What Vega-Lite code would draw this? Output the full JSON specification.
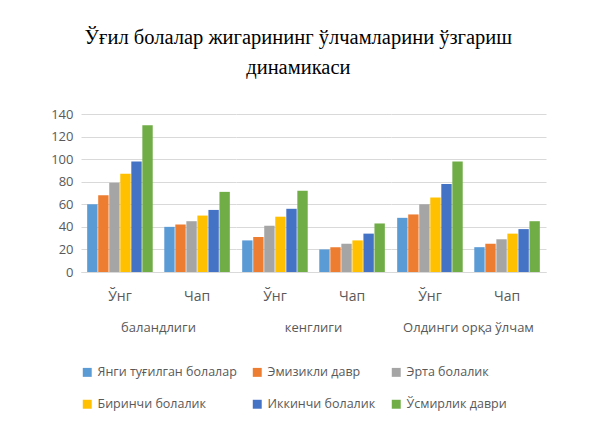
{
  "$schema": "https://vega.github.io/schema/vega-lite/v6.json",
  "background": "white",
  "padding": {"left": 50, "top": 27, "right": 20, "bottom": 10},
  "title": {
    "text": ["Ўғил болалар жигарининг  ўлчамларини ўзгариш", "динамикаси"],
    "font": "Liberation Serif",
    "fontSize": 20.5,
    "fontWeight": "normal",
    "color": "#000000",
    "anchor": "middle",
    "lineHeight": 30,
    "offset": 30
  },
  "data": {
    "values": [
      {"group": "баландлиги", "side": "Ўнг", "series": "Янги туғилган болалар", "value": 60},
      {"group": "баландлиги", "side": "Ўнг", "series": "Эмизикли давр", "value": 68},
      {"group": "баландлиги", "side": "Ўнг", "series": "Эрта болалик", "value": 79},
      {"group": "баландлиги", "side": "Ўнг", "series": "Биринчи болалик", "value": 87},
      {"group": "баландлиги", "side": "Ўнг", "series": "Иккинчи болалик", "value": 98},
      {"group": "баландлиги", "side": "Ўнг", "series": "Ўсмирлик даври", "value": 130},
      {"group": "баландлиги", "side": "Чап", "series": "Янги туғилган болалар", "value": 40},
      {"group": "баландлиги", "side": "Чап", "series": "Эмизикли давр", "value": 42},
      {"group": "баландлиги", "side": "Чап", "series": "Эрта болалик", "value": 45},
      {"group": "баландлиги", "side": "Чап", "series": "Биринчи болалик", "value": 50},
      {"group": "баландлиги", "side": "Чап", "series": "Иккинчи болалик", "value": 55},
      {"group": "баландлиги", "side": "Чап", "series": "Ўсмирлик даври", "value": 71},
      {"group": "кенглиги", "side": "Ўнг", "series": "Янги туғилган болалар", "value": 28},
      {"group": "кенглиги", "side": "Ўнг", "series": "Эмизикли давр", "value": 31},
      {"group": "кенглиги", "side": "Ўнг", "series": "Эрта болалик", "value": 41},
      {"group": "кенглиги", "side": "Ўнг", "series": "Биринчи болалик", "value": 49},
      {"group": "кенглиги", "side": "Ўнг", "series": "Иккинчи болалик", "value": 56},
      {"group": "кенглиги", "side": "Ўнг", "series": "Ўсмирлик даври", "value": 72},
      {"group": "кенглиги", "side": "Чап", "series": "Янги туғилган болалар", "value": 20},
      {"group": "кенглиги", "side": "Чап", "series": "Эмизикли давр", "value": 22},
      {"group": "кенглиги", "side": "Чап", "series": "Эрта болалик", "value": 25},
      {"group": "кенглиги", "side": "Чап", "series": "Биринчи болалик", "value": 28},
      {"group": "кенглиги", "side": "Чап", "series": "Иккинчи болалик", "value": 34},
      {"group": "кенглиги", "side": "Чап", "series": "Ўсмирлик даври", "value": 43},
      {"group": "Олдинги орқа ўлчам", "side": "Ўнг", "series": "Янги туғилган болалар", "value": 48},
      {"group": "Олдинги орқа ўлчам", "side": "Ўнг", "series": "Эмизикли давр", "value": 51},
      {"group": "Олдинги орқа ўлчам", "side": "Ўнг", "series": "Эрта болалик", "value": 60},
      {"group": "Олдинги орқа ўлчам", "side": "Ўнг", "series": "Биринчи болалик", "value": 66},
      {"group": "Олдинги орқа ўлчам", "side": "Ўнг", "series": "Иккинчи болалик", "value": 78},
      {"group": "Олдинги орқа ўлчам", "side": "Ўнг", "series": "Ўсмирлик даври", "value": 98},
      {"group": "Олдинги орқа ўлчам", "side": "Чап", "series": "Янги туғилган болалар", "value": 22},
      {"group": "Олдинги орқа ўлчам", "side": "Чап", "series": "Эмизикли давр", "value": 25},
      {"group": "Олдинги орқа ўлчам", "side": "Чап", "series": "Эрта болалик", "value": 29},
      {"group": "Олдинги орқа ўлчам", "side": "Чап", "series": "Биринчи болалик", "value": 34},
      {"group": "Олдинги орқа ўлчам", "side": "Чап", "series": "Иккинчи болалик", "value": 38},
      {"group": "Олдинги орқа ўлчам", "side": "Чап", "series": "Ўсмирлик даври", "value": 45}
    ]
  },
  "facet": {
    "column": {
      "field": "group",
      "type": "nominal",
      "sort": ["баландлиги", "кенглиги", "Олдинги орқа ўлчам"],
      "header": {
        "title": null,
        "labelOrient": "bottom",
        "labelFont": "Open Sans",
        "labelFontSize": 13,
        "labelColor": "#595959",
        "labelPadding": 19
      }
    }
  },
  "spacing": 0,
  "spec": {
    "width": 155,
    "height": 158,
    "mark": {"type": "bar"},
    "encoding": {
      "x": {
        "field": "side",
        "type": "nominal",
        "sort": ["Ўнг", "Чап"],
        "title": null,
        "scale": {"paddingInner": 0.15, "paddingOuter": 0.08},
        "axis": {
          "labelAngle": 0,
          "labelFont": "Open Sans",
          "labelFontSize": 14,
          "labelColor": "#595959",
          "labelPadding": 17,
          "ticks": false,
          "domainColor": "#d9d9d9"
        }
      },
      "xOffset": {
        "field": "series",
        "type": "nominal",
        "sort": ["Янги туғилган болалар", "Эмизикли давр", "Эрта болалик", "Биринчи болалик", "Иккинчи болалик", "Ўсмирлик даври"],
        "scale": {"paddingInner": 0.06}
      },
      "y": {
        "field": "value",
        "type": "quantitative",
        "title": null,
        "scale": {"domain": [0, 140], "nice": false},
        "axis": {
          "values": [0, 20, 40, 60, 80, 100, 120, 140],
          "domain": false,
          "ticks": false,
          "labelFont": "Open Sans",
          "labelFontSize": 13,
          "labelColor": "#595959",
          "labelPadding": 8,
          "gridColor": "#d9d9d9"
        }
      },
      "color": {
        "field": "series",
        "type": "nominal",
        "sort": ["Янги туғилган болалар", "Эмизикли давр", "Эрта болалик", "Биринчи болалик", "Иккинчи болалик", "Ўсмирлик даври"],
        "scale": {
          "domain": ["Янги туғилган болалар", "Эмизикли давр", "Эрта болалик", "Биринчи болалик", "Иккинчи болалик", "Ўсмирлик даври"],
          "range": ["#5B9BD5", "#ED7D31", "#A5A5A5", "#FFC000", "#4472C4", "#70AD47"]
        },
        "legend": {
          "title": null,
          "orient": "bottom",
          "direction": "horizontal",
          "columns": 3,
          "symbolType": "square",
          "symbolSize": 80,
          "labelFont": "Open Sans",
          "labelFontSize": 12.5,
          "labelColor": "#595959",
          "columnPadding": 14,
          "rowPadding": 19,
          "offset": 31
        }
      }
    }
  },
  "config": {
    "view": {"stroke": null}
  }
}
